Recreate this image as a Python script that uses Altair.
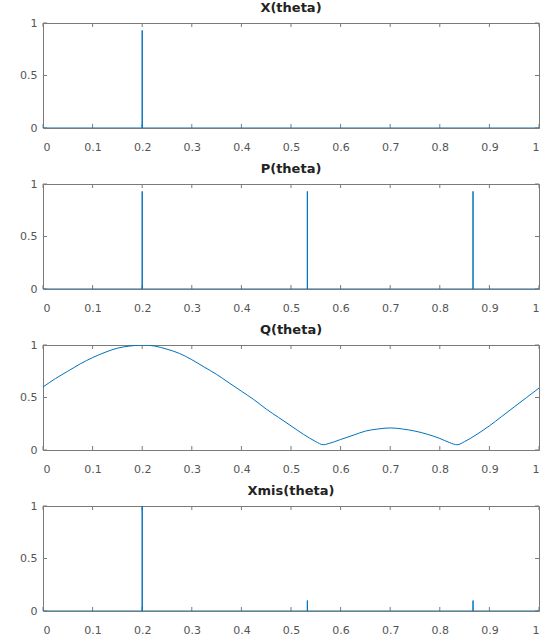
import altair as alt
import pandas as pd

# ---- data ----
theta_X = [0.0, 0.2, 0.2, 0.2, 1.0]
val_X = [0.0, 0.0, 0.93, 0.0, 0.0]

theta_P = [0.0, 0.2, 0.2, 0.2, 0.533, 0.533, 0.533, 0.867, 0.867, 0.867, 1.0]
val_P = [0.0, 0.0, 0.93, 0.0, 0.0, 0.93, 0.0, 0.0, 0.93, 0.0, 0.0]

theta_Q = [0.000, 0.025, 0.050, 0.075, 0.100, 0.125, 0.150, 0.175, 0.200, 0.225,
           0.250, 0.275, 0.300, 0.325, 0.350, 0.375, 0.400, 0.425, 0.450, 0.475,
           0.500, 0.525, 0.550, 0.565, 0.575, 0.600, 0.625, 0.650, 0.675, 0.700,
           0.725, 0.750, 0.775, 0.800, 0.820, 0.835, 0.850, 0.875, 0.900, 0.925,
           0.950, 0.975, 1.000]
val_Q = [0.60, 0.68, 0.75, 0.82, 0.88, 0.93, 0.97, 0.99, 1.00, 0.99,
         0.96, 0.92, 0.86, 0.79, 0.72, 0.64, 0.56, 0.48, 0.39, 0.31,
         0.23, 0.15, 0.08, 0.05, 0.06, 0.10, 0.14, 0.18, 0.20, 0.21,
         0.20, 0.18, 0.15, 0.11, 0.07, 0.05, 0.08, 0.15, 0.23, 0.32,
         0.41, 0.50, 0.59]

theta_M = [0.0, 0.2, 0.2, 0.2, 0.533, 0.533, 0.533, 0.867, 0.867, 0.867, 1.0]
val_M = [0.0, 0.0, 1.0, 0.0, 0.0, 0.1, 0.0, 0.0, 0.1, 0.0, 0.0]

titles = ["X(theta)", "P(theta)", "Q(theta)", "Xmis(theta)"]
x_ticks = [0, 0.1, 0.2, 0.3, 0.4, 0.5, 0.6, 0.7, 0.8, 0.9, 1]
y_ticks = [0, 0.5, 1]

W, H = 496, 105
LINE = "#0072BD"
AX = "#7a7a7a"
FONT = "DejaVu Sans"

xt = pd.DataFrame({"t": x_ticks})
yt = pd.DataFrame({"v": y_ticks})


def panel(th, vals, title, interp="linear"):
    df = pd.DataFrame({"theta": th, "val": vals, "i": list(range(len(th)))})
    xs = alt.Scale(domain=[0, 1], nice=False, zero=False)
    ys = alt.Scale(domain=[0, 1], nice=False, zero=False)
    xax = alt.Axis(values=x_ticks, labelExpr="datum.value == 0 || datum.value == 1 ? format(datum.value, 'd') : format(datum.value, '.1f')",
                   tickSize=0, labelPadding=13, domain=False, grid=False, title=None,
                   labelFontSize=11, labelColor="#555555", labelFont=FONT)
    yax = alt.Axis(values=y_ticks, labelExpr="datum.value == 0.5 ? '0.5' : format(datum.value, 'd')",
                   tickSize=0, labelPadding=6, domain=False, grid=False, title=None,
                   labelFontSize=11, labelColor="#555555", labelFont=FONT,
                   minExtent=37, maxExtent=37)
    line = alt.Chart(df).mark_line(color=LINE, strokeWidth=1, interpolate=interp, clip=True).encode(
        x=alt.X("theta:Q", scale=xs, axis=xax),
        y=alt.Y("val:Q", scale=ys, axis=yax),
        order="i:Q",
    )
    tb = alt.Chart(xt).mark_rule(color=AX, strokeWidth=1).encode(
        x=alt.X("t:Q", scale=xs, axis=xax), y=alt.value(H), y2=alt.value(H - 4))
    tt = alt.Chart(xt).mark_rule(color=AX, strokeWidth=1).encode(
        x=alt.X("t:Q", scale=xs, axis=xax), y=alt.value(0), y2=alt.value(4))
    tl = alt.Chart(yt).mark_rule(color=AX, strokeWidth=1).encode(
        y=alt.Y("v:Q", scale=ys, axis=yax), x=alt.value(0), x2=alt.value(4))
    tr = alt.Chart(yt).mark_rule(color=AX, strokeWidth=1).encode(
        y=alt.Y("v:Q", scale=ys, axis=yax), x=alt.value(W), x2=alt.value(W - 4))
    return alt.layer(tb, tt, tl, tr, line).properties(
        width=W, height=H,
        title=alt.TitleParams(title, fontSize=13, fontWeight="bold", font=FONT,
                              color="#222222", offset=2, anchor="middle"),
    )


chart = alt.vconcat(
    panel(theta_X, val_X, titles[0]),
    panel(theta_P, val_P, titles[1]),
    panel(theta_Q, val_Q, titles[2], interp="monotone"),
    panel(theta_M, val_M, titles[3]),
    spacing=9,
).properties(
    padding={"left": 5, "top": 1, "right": 0, "bottom": 2},
    background="white",
).configure_view(
    stroke=AX, strokeWidth=1,
)

chart.save("out.html", embed_options={"renderer": "svg", "actions": False})
